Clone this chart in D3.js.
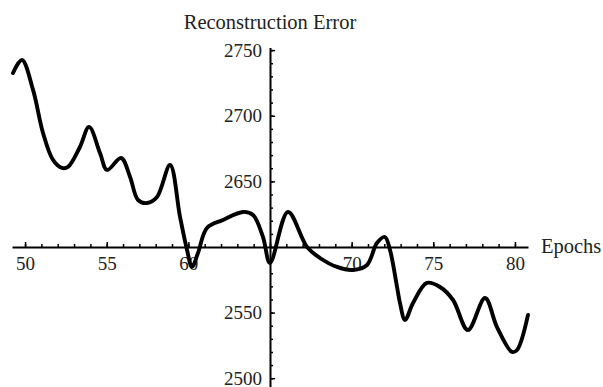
<!DOCTYPE html>
<html><head><meta charset="utf-8">
<script src="https://cdn.jsdelivr.net/npm/d3@7"></script>
<style>
html,body{margin:0;padding:0;background:#fff;}
svg{display:block;}
text{font-family:"Liberation Serif","Times New Roman",serif;}
</style></head>
<body><svg id="chart" width="603" height="387"></svg>
<script>
// Data
const epochs = [49.26,49.81,50.49,51.10,51.71,52.26,52.63,53.36,53.92,54.59,55.02,55.88,56.43,56.92,57.47,58.08,58.88,59.49,59.92,60.22,60.59,61.14,62.12,63.35,63.96,64.57,65.00,66.10,67.27,68.06,69.10,70.08,70.94,71.55,72.04,72.35,72.78,72.96,73.27,73.76,74.61,75.41,76.21,77.12,78.17,78.90,79.82,80.13,80.80];
const errors = [2732.6,2742.5,2719.7,2686.9,2666.3,2660.2,2661.0,2676.2,2691.5,2671.6,2658.7,2667.8,2653.4,2635.8,2633.5,2638.1,2662.5,2622.9,2597.7,2584.8,2595.4,2614.5,2620.6,2626.7,2624.4,2607.6,2587.8,2626.7,2600.0,2591.6,2584.8,2582.5,2586.3,2603.0,2607.6,2597.7,2569.5,2557.3,2544.4,2557.3,2572.6,2569.5,2559.6,2536.7,2561.1,2539.0,2520.0,2521.5,2548.2];
const xTickLabels = [50,55,60,70,75,80];
const yTickLabels = [2500,2550,2650,2700,2750];
const xMajorTicks = [50,55,60,65,70,75,80];
const yMajorTicks = [2500,2550,2600,2650,2700,2750];
const xTitle = "Epochs";
const yTitle = "Reconstruction Error";
const xOrigin = 65, yOrigin = 2600;

const svg = d3.select("#chart");
const x = d3.scaleLinear().domain([49.2, 80.8]).range([12, 528]);
const y = d3.scaleLinear().domain([2493.3, 2752]).range([387, 47.5]);

const fontSize = 19;
const titleSize = 20.5;
const textColor = "#222";

// x axis
const xg = svg.append("g").attr("transform", `translate(0,${y(yOrigin)})`);
xg.call(d3.axisBottom(x).tickValues(d3.range(50,81,1)).tickSize(-3).tickSizeOuter(0).tickFormat(""));
xg.call(g => g.select(".domain").remove());
xg.selectAll("line").attr("stroke","#000").attr("stroke-width",1.5);
const xg2 = svg.append("g").attr("transform", `translate(0,${y(yOrigin)})`);
xg2.call(d3.axisBottom(x).tickValues(xMajorTicks).tickSize(-5).tickSizeOuter(0).tickPadding(20)
  .tickFormat(d => xTickLabels.includes(d) ? d : ""));
xg2.selectAll("line").attr("stroke","#000").attr("stroke-width",1.5);
xg2.select(".domain").attr("stroke","#000").attr("stroke-width",2);
xg2.selectAll("text").attr("font-size",fontSize).attr("fill",textColor)
   .attr("font-family","Liberation Serif").attr("dy","0").attr("y",23);

// y axis
const yg = svg.append("g").attr("transform", `translate(${x(xOrigin)},0)`);
yg.call(d3.axisLeft(y).tickValues(d3.range(2500,2751,10)).tickSize(-3).tickSizeOuter(0).tickFormat(""));
yg.call(g => g.select(".domain").remove());
yg.selectAll("line").attr("stroke","#000").attr("stroke-width",1.5);
const yg2 = svg.append("g").attr("transform", `translate(${x(xOrigin)},0)`);
yg2.call(d3.axisLeft(y).tickValues(yMajorTicks).tickSize(-5).tickSizeOuter(0).tickPadding(8)
  .tickFormat(d => yTickLabels.includes(d) ? d : ""));
yg2.selectAll("line").attr("stroke","#000").attr("stroke-width",1.5);
yg2.select(".domain").attr("stroke","#000").attr("stroke-width",2);
yg2.selectAll("text").attr("font-size",fontSize).attr("fill",textColor)
   .attr("font-family","Liberation Serif");

// titles
svg.append("text").attr("x", x(xOrigin)).attr("y", 29).attr("text-anchor","middle")
  .attr("font-size",titleSize).attr("fill",textColor).text(yTitle);
svg.append("text").attr("x", 541).attr("y", y(yOrigin)+6)
  .attr("font-size",titleSize).attr("fill",textColor).text(xTitle);

// curve
const data = epochs.map((e,i)=>({e, v: errors[i]}));
svg.append("path").datum(data)
  .attr("fill","none").attr("stroke","#000").attr("stroke-width",3.9)
  .attr("stroke-linejoin","round").attr("stroke-linecap","round")
  .attr("d", d3.line().x(d=>x(d.e)).y(d=>y(d.v)).curve(d3.curveCatmullRom.alpha(0.5)));
</script></body></html>
